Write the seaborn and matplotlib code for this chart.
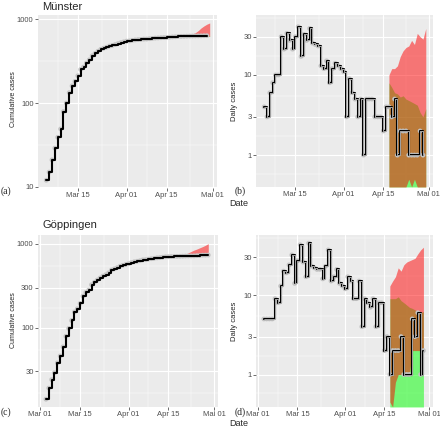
import numpy as np
import pandas as pd
import matplotlib
matplotlib.use("Agg")
import matplotlib.pyplot as plt
import matplotlib.dates as mdates
from matplotlib.ticker import FixedLocator, FixedFormatter, NullFormatter
import seaborn as sns

# ---- values ----
# Münster
ms_start = "2020-03-04"
ms_daily = [4, 3, 6, 8, 10, 10, 30, 21, 33, 27, 21, 30, 40, 17, 32, 27, 38, 25, 24, 23,
            13, 12, 15, 8, 12, 14, 13, 12,
            11, 3, 9, 6, 5, 3, 5, 1, 5, 5, 5, 3, 3, 3, 2, 4, 4, 3, 5, 1, 2, 2, 2, 1, 1, 1,
            1, 2, 1]
ms_cum = [12, 15, 21, 29, 39, 49, 79, 100, 133, 160, 181, 211, 251, 268, 300, 327, 365, 390,
          414, 437, 450, 462, 477, 485, 497, 511, 524, 536,
          547, 550, 559, 565, 570, 573, 578, 579, 584, 589, 594, 597, 600, 603, 605, 609,
          613, 616, 621, 622, 624, 626, 628, 629, 630, 631, 632, 634, 635]
ms_fc_start = "2020-04-17"
ms_red_lo = [0, 0, 0, 0, 0, 0, 0, 0.5, 0, 0.5, 0, 0, 0, 0]
ms_red_hi = [10, 12, 12, 13, 17, 20, 22, 23, 27, 24, 33, 30, 28, 38]
ms_green_lo = [0] * 14
ms_green_hi = [8, 7, 6, 5.8, 5.3, 5.5, 5.0, 4.8, 4.6, 4.4, 4.2, 3.4, 3.0, 3.8]
ms_cum_red_lo = [612, 614, 616, 617, 618, 619, 620, 621, 622, 623, 624, 625, 626, 627]
ms_cum_red_hi = [614, 617, 620, 623, 626, 632, 648, 670, 690, 730, 785, 830, 870, 900]
ms_cum_green_lo = [611, 612, 613, 614, 615, 616, 617, 618, 619, 620, 621, 622, 623, 624]
ms_cum_green_hi = [613, 616, 619, 621, 623, 625, 627, 628, 629, 630, 631, 632, 633, 634]

# Göppingen
gp_start = "2020-03-03"
gp_daily = [5, 5, 5, 5, 9, 8, 13, 20, 19, 24, 32, 14, 27, 43, 26, 17, 45, 23, 22, 21,
            21, 16, 23, 37, 15, 17, 21, 14, 13,
            12, 17, 15, 9, 9, 15, 4, 9, 8, 7, 9, 4, 8, 8, 2, 3, 1, 2, 2, 2, 3, 1, 1, 1,
            5, 3, 6, 1, 2]
gp_cum = [14, 19, 24, 29, 38, 46, 59, 79, 98, 122, 154, 168, 195, 238, 264, 281, 326, 349,
          371, 392, 413, 429, 452, 489, 504, 521, 542, 556, 569,
          581, 598, 613, 622, 631, 646, 650, 659, 667, 674, 683, 687, 695, 703, 705, 708,
          709, 711, 713, 715, 718, 719, 720, 721, 726, 729, 735, 736, 738]
gp_fc_start = "2020-04-17"
gp_red_lo = [0.45, 0, 0.8, 1, 1, 1, 1, 1, 2, 2, 2, 2, 1.5]
gp_red_hi = [13, 15, 17, 22, 20, 24, 26, 27, 28, 29, 33, 37, 40]
gp_green_lo = [0] * 13
gp_green_hi = [9, 9, 9, 9.5, 8.5, 8, 7.5, 7, 6.8, 6.5, 6.2, 6, 6.2]
gp_cum_red_lo = [709, 710, 711, 712, 713, 714, 715, 716, 717, 718, 719, 720, 721]
gp_cum_red_hi = [711, 716, 726, 740, 758, 785, 815, 845, 870, 900, 930, 965, 1010]
gp_cum_green_lo = [707, 708, 709, 710, 711, 712, 713, 714, 715, 716, 717, 718, 719]
gp_cum_green_hi = [709, 711, 713, 715, 717, 719, 721, 723, 725, 727, 729, 731, 733]

x_ticks = ["2020-03-01", "2020-03-15", "2020-04-01", "2020-04-15", "2020-05-01"]
x_tick_labels = ["Mar 01", "Mar 15", "Apr 01", "Apr 15", "Mai 01"]
x_minor = ["2020-03-08 00:00", "2020-03-23 12:00", "2020-04-08 00:00", "2020-04-23 00:00"]

# ---- figure ----
W, H = 440, 429
sns.set_theme(style="darkgrid", rc={"axes.facecolor": "#EBEBEB", "grid.color": "white"})
plt.rcParams["font.family"] = ["Liberation Sans", "DejaVu Sans"]

fig = plt.figure(figsize=(W / 100, H / 100), dpi=100)


def box(l, t, r, b):
    return [l / W, 1 - b / H, (r - l) / W, (b - t) / H]


def floored(vals, low):
    v = np.asarray(vals, dtype=float)
    return np.where(v > 0, v, low)


def draw_panel(ax, start, vals, fc_start, g_lo, g_hi, r_lo, r_hi, xlim, ylim,
               yticks, yminor, hollow):
    d = pd.date_range(start, periods=len(vals))
    fd = pd.date_range(fc_start, periods=len(r_hi))
    ax.fill_between(fd, floored(g_lo, ylim[0]), g_hi, color=(0, 1, 0), alpha=0.5, lw=0, zorder=2)
    ax.fill_between(fd, floored(r_lo, ylim[0]), r_hi, color=(1, 0, 0), alpha=0.5, lw=0, zorder=2)
    sns.scatterplot(x=d, y=vals, ax=ax, color="#C4C4C4", s=12, edgecolor="none", zorder=3)
    sns.lineplot(x=d, y=vals, ax=ax, drawstyle="steps-post", color="black", lw=1.5, zorder=4)
    if hollow:
        sns.lineplot(x=d, y=vals, ax=ax, drawstyle="steps-post", color="white", lw=0.45, zorder=5)

    ax.set_yscale("log")
    ax.set_xlim(pd.Timestamp(xlim[0]), pd.Timestamp(xlim[1]))
    ax.set_ylim(*ylim)
    ax.yaxis.set_major_locator(FixedLocator(yticks))
    ax.yaxis.set_major_formatter(FixedFormatter([f"{t:g}" for t in yticks]))
    ax.yaxis.set_minor_locator(FixedLocator(yminor))
    ax.yaxis.set_minor_formatter(NullFormatter())
    ax.xaxis.set_major_locator(FixedLocator(mdates.date2num(pd.to_datetime(x_ticks))))
    ax.xaxis.set_major_formatter(FixedFormatter(x_tick_labels))
    ax.xaxis.set_minor_locator(FixedLocator(mdates.date2num(pd.to_datetime(x_minor))))
    ax.xaxis.set_minor_formatter(NullFormatter())

    ax.grid(which="major", color="white", lw=0.8)
    ax.grid(which="minor", color="white", lw=0.35)
    ax.tick_params(which="major", bottom=True, left=True, length=2, width=0.5,
                   color="#333333", labelsize=5.5, labelcolor="#4D4D4D", pad=1.2)
    ax.tick_params(which="minor", length=0)
    for s in ax.spines.values():
        s.set_visible(False)
    ax.set_xlabel("")
    ax.set_ylabel("")


ms_xlim = ("2020-03-01 03:00", "2020-05-02 13:00")
gp_xlim = ("2020-02-29 05:00", "2020-05-02 10:00")
daily_ticks = [1, 3, 10, 30]
daily_minor = [0.577, 1.73, 5.48, 17.3, 52]

ax_a = fig.add_axes(box(38, 15, 217, 188))
draw_panel(ax_a, ms_start, ms_cum, ms_fc_start, ms_cum_green_lo, ms_cum_green_hi,
           ms_cum_red_lo, ms_cum_red_hi, ms_xlim, (9.7, 1120),
           [10, 100, 1000], [31.6, 316], hollow=False)

ax_b = fig.add_axes(box(256, 15, 433, 187))
draw_panel(ax_b, ms_start, ms_daily, ms_fc_start, ms_green_lo, ms_green_hi,
           ms_red_lo, ms_red_hi, ms_xlim, (0.4, 56), daily_ticks, daily_minor, hollow=True)

ax_c = fig.add_axes(box(38, 235, 218, 407))
draw_panel(ax_c, gp_start, gp_cum, gp_fc_start, gp_cum_green_lo, gp_cum_green_hi,
           gp_cum_red_lo, gp_cum_red_hi, gp_xlim, (11.3, 1280),
           [30, 100, 300, 1000], [16.4, 54.8, 173, 548], hollow=False)

ax_d = fig.add_axes(box(256, 235, 433, 407))
draw_panel(ax_d, gp_start, gp_daily, gp_fc_start, gp_green_lo, gp_green_hi,
           gp_red_lo, gp_red_hi, gp_xlim, (0.39, 57), daily_ticks, daily_minor, hollow=True)


def px_text(x, y, s, **kw):
    fig.text(x / W, 1 - y / H, s, **kw)


px_text(42, 7, "Münster", fontsize=8, ha="left", va="center")
px_text(42, 225, "Göppingen", fontsize=8, ha="left", va="center")
px_text(13.5, 99, "Cumulative cases", fontsize=5, rotation=90, ha="center", va="center")
px_text(13.5, 320, "Cumulative cases", fontsize=5, rotation=90, ha="center", va="center")
px_text(234.5, 101, "Daily cases", fontsize=5.5, rotation=90, ha="center", va="center")
px_text(234.5, 321, "Daily cases", fontsize=5.5, rotation=90, ha="center", va="center")
px_text(229, 204, "Date", fontsize=6.5, ha="left", va="center")
px_text(229, 424, "Date", fontsize=6.5, ha="left", va="center")
serif = ["Liberation Serif", "DejaVu Serif"]
px_text(0.5, 191, "(a)", fontsize=7, family=serif, ha="left", va="center")
px_text(235, 191, "(b)", fontsize=7, family=serif, ha="left", va="center")
px_text(0.5, 412, "(c)", fontsize=7, family=serif, ha="left", va="center")
px_text(235, 412, "(d)", fontsize=7, family=serif, ha="left", va="center")

fig.savefig("out.png", dpi=100)
